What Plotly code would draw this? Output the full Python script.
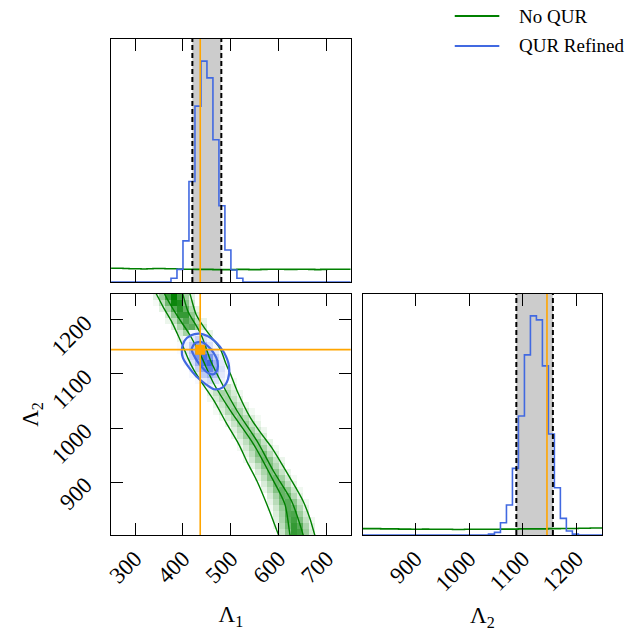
import numpy as np
import plotly.graph_objects as go

# ---- data ----
lam1_range = [250, 750]
lam2_range = [802, 1248]
n_bins = 40

truth_lam1 = 436
truth_lam2 = 1145
q_lam1 = [419.6, 480.0]
q_lam2 = [1088, 1156]

series_names = ["No QUR", "QUR Refined"]

# 1D histograms (relative heights, 40 bins each)
blue_lam1 = [0] * 10 + [0.017, 0.057, 0.186, 0.455, 0.796, 1.0, 0.924, 0.644,
                        0.345, 0.145, 0.054, 0.017] + [0] * 18
green_lam1 = [0.062, 0.062, 0.061, 0.060, 0.060, 0.059, 0.060, 0.061, 0.061, 0.060,
              0.060, 0.059, 0.058, 0.058, 0.057, 0.057, 0.057, 0.056, 0.056, 0.056,
              0.056, 0.057, 0.057, 0.056, 0.056, 0.057, 0.058, 0.058, 0.058, 0.057,
              0.057, 0.058, 0.058, 0.057, 0.056, 0.057, 0.058, 0.058, 0.058, 0.058]
blue_lam2 = [0] * 21 + [0.004, 0.012, 0.056, 0.137, 0.304, 0.543, 0.822, 1.0, 0.982,
                        0.772, 0.461, 0.216, 0.076, 0.018, 0.004] + [0] * 4
green_lam2 = [0.029, 0.029, 0.029, 0.028, 0.028, 0.028, 0.027, 0.027, 0.026, 0.026,
              0.027, 0.026, 0.026, 0.026, 0.026, 0.025, 0.025, 0.026, 0.026, 0.026,
              0.026, 0.026, 0.026, 0.027, 0.027, 0.027, 0.028, 0.028, 0.028, 0.028,
              0.028, 0.029, 0.029, 0.030, 0.030, 0.030, 0.031, 0.031, 0.032, 0.032]

# 2D green band: centre (Lambda_1) and peak density per Lambda_2 row, bottom to top
green_center = [636, 633, 629, 626, 622, 617, 611, 605, 598, 591,
                584, 577, 570, 563, 556, 549, 541, 534, 526, 518,
                507, 499, 491, 484, 477, 470, 463, 457, 452, 446,
                440, 434, 428, 422, 414, 407, 400, 393, 386, 381]
green_peak = [0.8, 0.8, 0.75, 0.7, 0.65, 0.65, 0.6, 0.6, 0.55, 0.55,
              0.5, 0.5, 0.55, 0.5, 0.45, 0.45, 0.45, 0.4, 0.4, 0.4,
              0.4, 0.35, 0.35, 0.35, 0.35, 0.35, 0.35, 0.35, 0.35, 0.4,
              0.4, 0.45, 0.5, 0.55, 0.65, 0.7, 0.8, 0.85, 0.95, 1.0]
band_offset = [-45, -32, -18, -6, 6, 18, 32, 45]
band_shape = [0, 0.2, 0.55, 1, 1, 0.55, 0.2, 0]

# 2D blue cells, rows 33 (top) .. 24, columns 11 .. 19
blue_row0, blue_col0 = 24, 11
blue_cells = [
    [0, 0, 0.05, 0.1, 0.05, 0, 0, 0, 0],
    [0, 0.05, 0.15, 0.3, 0.2, 0.1, 0, 0, 0],
    [0.03, 0.1, 0.35, 0.6, 0.45, 0.2, 0.05, 0, 0],
    [0.03, 0.15, 0.4, 0.8, 0.75, 0.4, 0.15, 0.03, 0],
    [0, 0.1, 0.3, 0.7, 0.95, 0.7, 0.3, 0.1, 0],
    [0, 0.05, 0.2, 0.5, 0.9, 1.0, 0.5, 0.15, 0.03],
    [0, 0, 0.1, 0.3, 0.6, 0.8, 0.55, 0.2, 0.05],
    [0, 0, 0.05, 0.15, 0.35, 0.5, 0.4, 0.15, 0.05],
    [0, 0, 0, 0.05, 0.15, 0.25, 0.2, 0.1, 0.03],
    [0, 0, 0, 0, 0.05, 0.1, 0.05, 0.03, 0],
]

# contour lines (Lambda_1, Lambda_2)
green_outer_left = [(338, 1258), (344.7, 1247.6), (360, 1222), (375.6, 1198.2), (388, 1175),
                    (399.7, 1151.9), (411, 1128), (423.7, 1105.6), (444, 1078), (465, 1050.1),
                    (490, 1010), (516.5, 969.8), (535, 935), (554.3, 901.9), (578, 852),
                    (599, 803.1), (603, 795)]
green_outer_right = [(410, 1258), (414.8, 1247.6), (427.2, 1210.6), (444.3, 1185.9), (462, 1165),
                     (478, 1146), (490, 1118), (499.3, 1099.4), (513, 1068.6), (540.5, 1019.2),
                     (563, 990), (585.2, 963.6), (605, 935), (623, 908.1), (650.5, 864.9),
                     (665, 832), (674.6, 803.1), (678, 795)]
green_inner_left = [(357, 1258), (361.9, 1247.6), (385.9, 1210.6), (413.4, 1173.5), (437.5, 1133.4),
                    (465, 1080.9), (499.3, 1031.5), (547.4, 969.8), (585.2, 908.1), (612.7, 858.7),
                    (623, 803.1), (625, 795)]
green_inner_right = [(396, 1258), (399.7, 1247.6), (410, 1216.7), (437.5, 1173.5), (458, 1124.1),
                     (482.1, 1080.9), (513, 1031.5), (554.3, 976), (588.7, 920.4), (626.5, 864.9),
                     (650.5, 803.1), (653, 795)]
blue_outer = [(397.6, 1142.6), (403.1, 1161.2), (416.8, 1171.7), (434.0, 1174.8), (451.2, 1170.4),
              (468.4, 1159.3), (485.6, 1139.6), (495.9, 1114.9), (493.8, 1090.2), (482.1, 1074.8),
              (465.0, 1071.7), (447.8, 1080.9), (427.1, 1096.4), (410.0, 1114.9), (399.7, 1130.3),
              (397.6, 1142.6)]
blue_inner = [(418.2, 1145.7), (425.1, 1156.9), (437.5, 1159.3), (451.2, 1151.9), (463.6, 1139.6),
              (471.8, 1124.1), (471.8, 1108.7), (463.6, 1099.4), (451.2, 1102.5), (437.5, 1114.9),
              (425.1, 1130.3), (418.2, 1145.7)]

GREEN = "#008000"
BLUE = "#4169E1"
ORANGE = "#FFA500"
FONT = "Liberation Serif"
# page body has an 8px margin, so the figure is slightly smaller than the window
OFF = 8
W, H = 636 - OFF, 631 - OFF

edges1 = np.linspace(lam1_range[0], lam1_range[1], n_bins + 1)
edges2 = np.linspace(lam2_range[0], lam2_range[1], n_bins + 1)
cent1 = 0.5 * (edges1[1:] + edges1[:-1])
cent2 = 0.5 * (edges2[1:] + edges2[:-1])

green_z = []
for i in range(n_bins):
    row = []
    for j in range(n_bins):
        v = green_peak[i] * np.interp(cent1[j] - green_center[i], band_offset, band_shape,
                                      left=0, right=0)
        row.append(v if v > 0.04 else None)
    green_z.append(row)

blue_z = [[None] * n_bins for _ in range(n_bins)]
for r, vals in enumerate(blue_cells[::-1]):
    for c, v in enumerate(vals):
        if v > 0:
            blue_z[blue_row0 + r][blue_col0 + c] = v


def step(edges, counts, color, xa, ya):
    return go.Scatter(x=list(edges), y=list(counts) + [counts[-1]], mode="lines",
                      line=dict(color=color, width=1.6, shape="hv"), xaxis=xa, yaxis=ya,
                      showlegend=False, hoverinfo="skip")


def curve(pts, color, width):
    return go.Scatter(x=[p[0] for p in pts], y=[p[1] for p in pts], mode="lines",
                      line=dict(color=color, width=width, shape="spline", smoothing=0.8),
                      xaxis="x2", yaxis="y2", showlegend=False, hoverinfo="skip")


fig = go.Figure()
fig.add_trace(step(edges1, green_lam1, GREEN, "x", "y"))
fig.add_trace(step(edges1, blue_lam1, BLUE, "x", "y"))
fig.add_trace(step(edges2, green_lam2, GREEN, "x3", "y3"))
fig.add_trace(step(edges2, blue_lam2, BLUE, "x3", "y3"))

fig.add_trace(go.Heatmap(x=cent1, y=cent2, z=green_z, zmin=0, zmax=1, showscale=False,
                         colorscale=[[0, "#ffffff"], [1, GREEN]], xaxis="x2", yaxis="y2",
                         hoverinfo="skip"))
fig.add_trace(go.Heatmap(x=cent1, y=cent2, z=blue_z, zmin=0, zmax=1, showscale=False,
                         colorscale=[[0, "#ffffff"], [1, BLUE]], xaxis="x2", yaxis="y2",
                         hoverinfo="skip"))
for pts in [green_outer_left, green_inner_left, green_inner_right, green_outer_right]:
    fig.add_trace(curve(pts, GREEN, 1.4))
for pts in [blue_outer, blue_inner]:
    fig.add_trace(curve(pts, BLUE, 2.2))
fig.add_trace(go.Scatter(x=[truth_lam1], y=[truth_lam2], mode="markers",
                         marker=dict(symbol="square", size=10, color=ORANGE),
                         xaxis="x2", yaxis="y2", showlegend=False, hoverinfo="skip"))

shapes = []
for xa, ya, q in [("x", "y", q_lam1), ("x3", "y3", q_lam2)]:
    shapes.append(dict(type="rect", xref=xa, yref=ya + " domain", x0=q[0], x1=q[1], y0=0, y1=1,
                       fillcolor="rgba(128,128,128,0.4)", line_width=0, layer="below"))
    for v in q:
        shapes.append(dict(type="line", xref=xa, yref=ya + " domain", x0=v, x1=v, y0=0, y1=1,
                           line=dict(color="black", width=2, dash="5px,3px")))
shapes.append(dict(type="line", xref="x", yref="y domain", x0=truth_lam1, x1=truth_lam1,
                   y0=0, y1=1, line=dict(color=ORANGE, width=1.6)))
shapes.append(dict(type="line", xref="x2", yref="y2 domain", x0=truth_lam1, x1=truth_lam1,
                   y0=0, y1=1, line=dict(color=ORANGE, width=1.6)))
shapes.append(dict(type="line", xref="x2 domain", yref="y2", x0=0, x1=1, y0=truth_lam2,
                   y1=truth_lam2, line=dict(color=ORANGE, width=1.6)))
shapes.append(dict(type="line", xref="x3", yref="y3 domain", x0=truth_lam2, x1=truth_lam2,
                   y0=0, y1=1, line=dict(color=ORANGE, width=1.6)))


def xdom(a, b):
    return [(a - OFF) / W, (b - OFF) / W]


def ydom(top, bottom):
    return [1 - (bottom - OFF) / H, 1 - (top - OFF) / H]


dom_left = xdom(106, 348)
dom_right = xdom(360, 602)
dom_top = ydom(39, 282)
dom_bot = ydom(294, 535)

# legend drawn by hand (top-right corner, outside the axes)
annotations = []
for k, (name, color) in enumerate(zip(series_names, [GREEN, BLUE])):
    yy = 1 - (16 + 30 * k - OFF) / H
    x0, x1 = xdom(453, 498)
    shapes.append(dict(type="line", xref="paper", yref="paper", x0=x0, x1=x1, y0=yy, y1=yy,
                       line=dict(color=color, width=2)))
    annotations.append(dict(text=name, xref="paper", yref="paper", x=xdom(516, 516)[0], y=yy,
                            xanchor="left", yanchor="middle", showarrow=False,
                            font=dict(family=FONT, size=19, color="black")))

base = dict(showline=True, linecolor="black", linewidth=1.2, showgrid=False, zeroline=False,
            ticks="inside", ticklen=12, tickwidth=1, tickcolor="black", tickangle=-45,
            tickfont=dict(family=FONT, size=23, color="black"))
noticks = dict(showline=True, linecolor="black", linewidth=1.2, mirror=True, showgrid=False,
               zeroline=False, ticks="", showticklabels=False, range=[0, 1.1])
lam1_ticks = [300, 400, 500, 600, 700]
lam2_ticks = [900, 1000, 1100, 1200]
title_font = dict(family=FONT, size=23, color="black")

fig.update_layout(
    width=W, height=H,
    margin=dict(l=0, r=0, t=0, b=0),
    paper_bgcolor="white", plot_bgcolor="white",
    font=dict(family=FONT, color="black"),
    showlegend=False,
    shapes=shapes,
    annotations=annotations,
    xaxis=dict(base, domain=dom_left, anchor="y", range=lam1_range, tickvals=lam1_ticks,
               mirror="allticks", showticklabels=False),
    yaxis=dict(noticks, domain=dom_top, anchor="x"),
    xaxis2=dict(base, domain=dom_left, anchor="y2", range=lam1_range, tickvals=lam1_ticks,
                mirror="allticks", title=dict(text="Λ<sub>1</sub>", font=title_font, standoff=18)),
    yaxis2=dict(base, domain=dom_bot, anchor="x2", range=lam2_range, tickvals=lam2_ticks,
                mirror="allticks", ticklabelstandoff=20,
                title=dict(text="Λ<sub>2</sub>", font=title_font, standoff=1)),
    xaxis3=dict(base, domain=dom_right, anchor="y3", range=lam2_range, tickvals=lam2_ticks,
                mirror="allticks", title=dict(text="Λ<sub>2</sub>", font=title_font, standoff=18)),
    yaxis3=dict(noticks, domain=dom_bot, anchor="x3"),
)

fig.write_html("out.html")
